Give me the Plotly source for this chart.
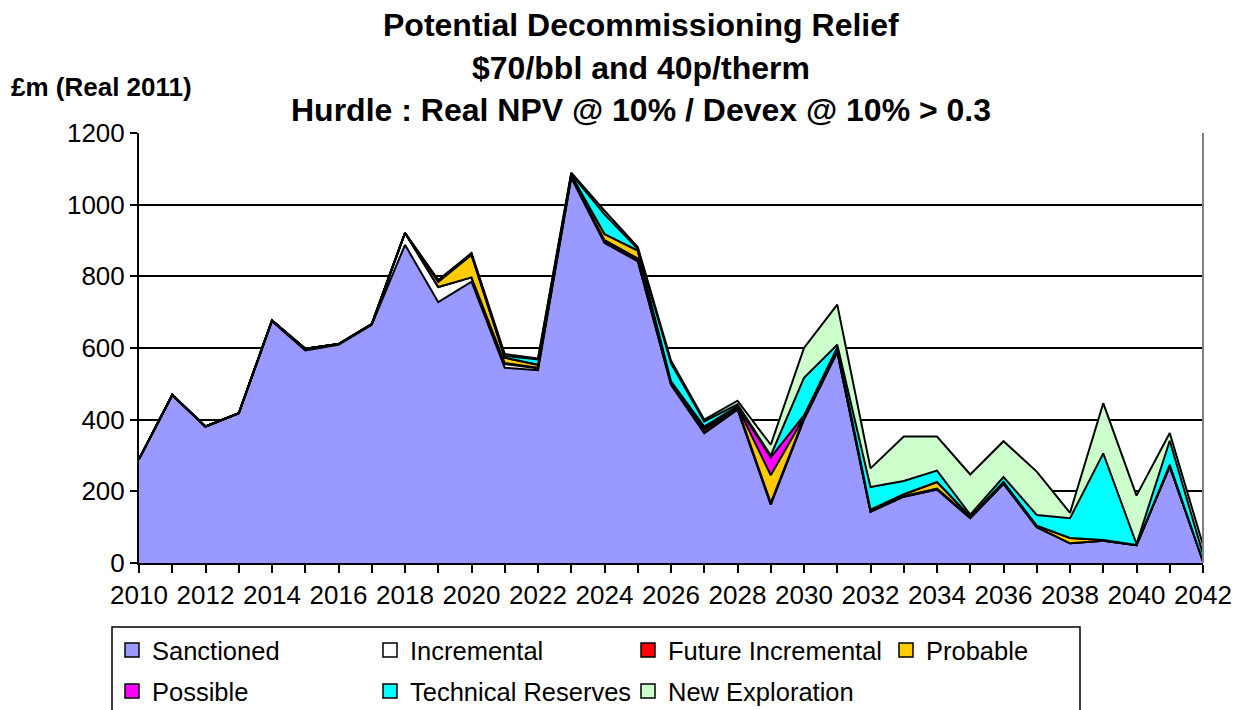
import plotly.graph_objects as go

years = list(range(2010, 2043))

sanctioned = [290, 469, 381, 418, 675, 593, 609, 665, 888, 728, 785, 545, 538, 1075, 893, 842,
              497, 362, 428, 163, 400, 588, 143, 185, 205, 125, 221, 100, 55, 62, 50, 269, 5]
incremental = [0, 0, 0, 0, 2, 5, 2, 2, 33, 42, 12, 10, 5, 3, 3, 2,
               2, 3, 2, 2, 2, 2, 0, 0, 0, 0, 0, 0, 0, 0, 0, 0, 0]
future_incremental = [0, 0, 0, 0, 0, 0, 0, 0, 0, 0, 0, 3, 2, 2, 5, 6,
                      3, 8, 3, 3, 2, 3, 3, 2, 3, 2, 2, 1, 0, 0, 0, 2, 0]
probable = [0, 0, 0, 0, 0, 0, 0, 0, 0, 15, 63, 15, 8, 3, 17, 22,
            5, 5, 3, 77, 3, 3, 3, 5, 18, 3, 3, 3, 15, 2, 0, 3, 0]
possible = [0, 0, 0, 0, 0, 0, 0, 0, 0, 0, 0, 0, 0, 0, 0, 0,
            0, 3, 2, 50, 5, 5, 0, 0, 0, 0, 0, 0, 0, 0, 0, 0, 0]
technical_reserves = [0, 0, 0, 0, 0, 0, 0, 0, 0, 3, 3, 5, 15, 3, 55, 5,
                      50, 14, 5, 5, 105, 8, 63, 37, 32, 5, 14, 30, 55, 242, 3, 67, 20]
new_exploration = [0, 0, 0, 0, 0, 0, 0, 0, 0, 2, 2, 5, 3, 3, 10, 5,
                   8, 5, 10, 30, 83, 112, 52, 124, 95, 112, 100, 121, 15, 140, 135, 22, 25]

series = [
    ("Sanctioned", sanctioned, "#9999FF"),
    ("Incremental", incremental, "#FFFFFF"),
    ("Future Incremental", future_incremental, "#FF0000"),
    ("Probable", probable, "#FFCC00"),
    ("Possible", possible, "#FF00FF"),
    ("Technical Reserves", technical_reserves, "#00FFFF"),
    ("New Exploration", new_exploration, "#CCFFCC"),
]

FONT = "Liberation Sans, Arial, sans-serif"
OFF = 8  # page body margin offset
W, H = 1244, 710
# target plot area in screenshot pixels: x 139..1203, y 133..563
L = 139 - OFF
T = 133 - OFF
R = W - (1203 - OFF)
B = H - (563 - OFF)
PW, PH = W - L - R, H - T - B


def px_x(p):
    return (p - OFF - L) / PW


def px_y(p):
    return (H - B - (p - OFF)) / PH


fig = go.Figure()
for name, vals, col in series:
    fig.add_trace(go.Scatter(
        x=years, y=vals, name=name, stackgroup="one", mode="lines",
        line=dict(color="black", width=2), fillcolor=col, showlegend=False,
        hoverinfo="x+y+name"))

# legend entries (square markers), split into two rows
for i, (name, vals, col) in enumerate(series):
    fig.add_trace(go.Scatter(
        x=[None], y=[None], name=name, mode="markers",
        marker=dict(symbol="square", size=14, color=col, line=dict(color="black", width=1.5)),
        legend="legend" if i < 4 else "legend2"))

leg_common = dict(orientation="h", xanchor="left", yanchor="top", traceorder="normal",
                  font=dict(family=FONT, size=25.5, color="black"),
                  bgcolor="rgba(0,0,0,0)", borderwidth=0,
                  entrywidth=213, entrywidthmode="pixels", itemwidth=30)

fig.update_layout(
    width=W, height=H,
    margin=dict(l=L, r=R, t=T, b=B, autoexpand=False),
    paper_bgcolor="white", plot_bgcolor="white",
    font=dict(family=FONT, size=26, color="black"),
    showlegend=True,
    legend=dict(x=px_x(112), y=px_y(627), **leg_common),
    legend2=dict(x=px_x(112), y=px_y(668), **leg_common),
    xaxis=dict(range=[2010, 2042], tickmode="linear", tick0=2010, dtick=2,
               ticks="outside", ticklen=8, tickcolor="black", tickwidth=1.5,
               minor=dict(dtick=1, ticks="outside", ticklen=8, tickcolor="black", tickwidth=1.5),
               showline=True, linecolor="black", linewidth=2, showgrid=False,
               zeroline=False, tickfont=dict(size=26, family=FONT)),
    yaxis=dict(range=[0, 1200], dtick=200, ticks="outside", ticklen=7,
               tickcolor="black", tickwidth=1.5,
               showline=True, linecolor="black", linewidth=2,
               showgrid=True, gridcolor="black", gridwidth=1.5, zeroline=False,
               tickfont=dict(size=26, family=FONT)),
)

# plot-area right border
fig.add_shape(type="line", xref="paper", yref="paper", x0=1, x1=1, y0=0, y1=1,
              line=dict(color="#808080", width=2))
# legend frame
fig.add_shape(type="rect", xref="paper", yref="paper",
              x0=px_x(112), x1=px_x(1080), y0=px_y(627), y1=px_y(720),
              line=dict(color="black", width=1.5), fillcolor="rgba(0,0,0,0)")

title_lines = ["Potential Decommissioning Relief", "$70/bbl and 40p/therm",
               "Hurdle : Real NPV @ 10% / Devex @ 10% > 0.3"]
title_y = [25, 68, 110]
for txt, yy in zip(title_lines, title_y):
    fig.add_annotation(text="<b>%s</b>" % txt, xref="paper", yref="paper",
                       x=px_x(641), y=px_y(yy), xanchor="center", yanchor="middle",
                       showarrow=False, font=dict(family=FONT, size=32, color="black"))

fig.add_annotation(text="<b>£m (Real 2011)</b>", xref="paper", yref="paper",
                   x=px_x(9), y=px_y(87), xanchor="left", yanchor="middle",
                   showarrow=False, font=dict(family=FONT, size=26, color="black"))

fig.write_html("out.html")
